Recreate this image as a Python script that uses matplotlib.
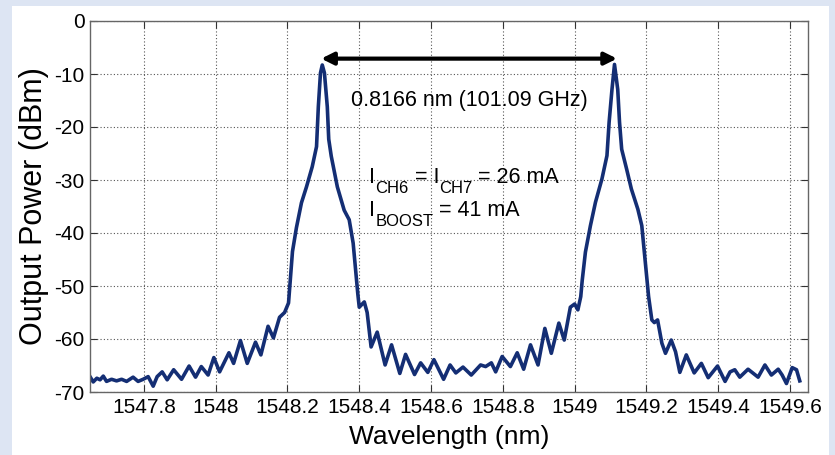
import matplotlib
matplotlib.use("Agg")
import matplotlib.pyplot as plt
from matplotlib.patches import Rectangle

plt.rcParams["font.family"] = ["Liberation Sans", "DejaVu Sans"]
plt.rcParams["axes.unicode_minus"] = False

# spectrum
wavelength = [
    1547.650, 1547.659, 1547.669, 1547.678, 1547.687, 1547.696, 1547.710, 1547.724,
    1547.738, 1547.752, 1547.770, 1547.784, 1547.798, 1547.812, 1547.826, 1547.837,
    1547.851, 1547.865, 1547.883, 1547.905, 1547.926, 1547.944, 1547.960, 1547.979,
    1547.995, 1548.011, 1548.037, 1548.050, 1548.069, 1548.088, 1548.111, 1548.126,
    1548.146, 1548.161, 1548.178, 1548.192, 1548.203, 1548.208, 1548.214, 1548.225,
    1548.239, 1548.253, 1548.269, 1548.281, 1548.286, 1548.292, 1548.297, 1548.303,
    1548.311, 1548.315, 1548.322, 1548.339, 1548.358, 1548.372, 1548.383, 1548.392,
    1548.396, 1548.400, 1548.414, 1548.422, 1548.433, 1548.450, 1548.472, 1548.490,
    1548.513, 1548.529, 1548.554, 1548.571, 1548.591, 1548.608, 1548.635, 1548.653,
    1548.669, 1548.689, 1548.712, 1548.738, 1548.752, 1548.768, 1548.780, 1548.798,
    1548.821, 1548.840, 1548.858, 1548.877, 1548.898, 1548.917, 1548.935, 1548.956,
    1548.971, 1548.988, 1549.000, 1549.009, 1549.017, 1549.021, 1549.030, 1549.044,
    1549.058, 1549.076, 1549.090, 1549.096, 1549.104, 1549.111, 1549.120, 1549.125,
    1549.131, 1549.145, 1549.158, 1549.176, 1549.187, 1549.194, 1549.201, 1549.206,
    1549.215, 1549.222, 1549.231, 1549.243, 1549.253, 1549.269, 1549.281, 1549.293,
    1549.311, 1549.333, 1549.353, 1549.372, 1549.398, 1549.419, 1549.433, 1549.446,
    1549.460, 1549.483, 1549.511, 1549.530, 1549.548, 1549.567, 1549.578, 1549.590,
    1549.606, 1549.618, 1549.627,
]
power = [
    -67.1, -68.1, -67.4, -67.7, -67.0, -68.0, -67.6, -67.9,
    -67.6, -68.0, -67.2, -68.0, -67.6, -67.1, -68.9, -67.1,
    -66.2, -67.7, -65.8, -67.6, -65.1, -67.2, -65.2, -66.8,
    -63.5, -66.2, -62.6, -64.6, -60.3, -64.6, -60.6, -63.0,
    -57.6, -59.8, -55.9, -55.0, -53.2, -48.9, -43.5, -39.0,
    -34.3, -31.3, -27.5, -23.7, -16.2, -9.8, -8.3, -9.8,
    -16.2, -22.3, -25.5, -31.3, -35.7, -37.5, -41.9, -48.5,
    -51.5, -54.0, -53.0, -55.0, -61.5, -58.7, -64.9, -61.1,
    -66.5, -62.9, -66.7, -64.5, -66.3, -63.9, -67.6, -64.9,
    -66.4, -65.3, -66.8, -64.9, -65.2, -64.5, -66.2, -63.3,
    -65.2, -62.6, -65.7, -61.1, -64.9, -58.0, -62.7, -57.0,
    -60.2, -54.0, -53.4, -54.5, -52.0, -49.0, -43.6, -38.6,
    -34.2, -29.8, -25.4, -19.1, -12.9, -8.2, -12.9, -19.1,
    -24.2, -28.0, -31.7, -35.5, -38.6, -43.6, -48.5, -52.0,
    -56.4, -56.9, -56.4, -60.8, -62.7, -60.2, -62.4, -66.3,
    -63.0, -66.4, -64.6, -67.3, -65.1, -68.0, -66.2, -65.8,
    -67.2, -65.7, -67.2, -64.9, -66.8, -65.7, -66.8, -68.4,
    -65.4, -65.8, -67.9,
]

xticks = [1547.8, 1548.0, 1548.2, 1548.4, 1548.6, 1548.8, 1549.0, 1549.2, 1549.4, 1549.6]
xtick_labels = ["1547.8", "1548", "1548.2", "1548.4", "1548.6", "1548.8",
                "1549", "1549.2", "1549.4", "1549.6"]
yticks = [0, -10, -20, -30, -40, -50, -60, -70]

peak_left = (1548.294, -7.1)
peak_right = (1549.118, -7.1)
spacing_text = "0.8166 nm (101.09 GHz)"
# (main text, subscript) pieces for the two current lines
line1 = [("I", "CH6"), (" = I", "CH7"), (" = 26 mA", "")]
line2 = [("I", "BOOST"), (" = 41 mA", "")]

fig = plt.figure(figsize=(8.35, 4.55), dpi=100)
fig.patch.set_facecolor("#dde5f3")
fig.patches.append(Rectangle((12 / 835, 0), 817 / 835, 449 / 455,
                             transform=fig.transFigure, facecolor="white",
                             edgecolor="none", zorder=-10))

ax = fig.add_axes([90 / 835, 63 / 455, 718 / 835, 371 / 455])
ax.plot(wavelength, power, color="#142e74", lw=2.6, solid_joinstyle="round")

ax.set_xlim(1547.65, 1549.65)
ax.set_ylim(-70, 0)
ax.set_xticks(xticks)
ax.set_xticklabels(xtick_labels)
ax.set_yticks(yticks)
ax.tick_params(direction="in", length=5, width=0.8, labelsize=15, pad=4,
               top=True, right=True, colors="#333333", labelcolor="black")
ax.grid(True, color="#555555", linestyle=(0, (1, 2)), lw=0.8)
for s in ax.spines.values():
    s.set_color("#666666")
    s.set_linewidth(1.0)

ax.set_xlabel("Wavelength (nm)", fontsize=19, labelpad=6)
ax.set_ylabel("Output Power (dBm)", fontsize=22, labelpad=4)

ax.annotate("", xy=peak_left, xytext=peak_right,
            arrowprops=dict(arrowstyle="<|-|>", color="black", lw=3,
                            mutation_scale=18, shrinkA=0, shrinkB=0))
ax.text((peak_left[0] + peak_right[0]) / 2, -15, spacing_text,
        ha="center", va="center", fontsize=15.5)


def sub_line(x0, y0, pieces, fs=15.5, fs_sub=12, drop=1.9):
    prev = None
    for main, sub in pieces:
        if prev is None:
            prev = ax.text(x0, y0, main, ha="left", va="baseline", fontsize=fs)
        else:
            prev = ax.annotate(main, xy=(1, y0), xycoords=(prev, "data"),
                               ha="left", va="baseline", fontsize=fs)
        if sub:
            prev = ax.annotate(sub, xy=(1, y0 - drop), xycoords=(prev, "data"),
                               ha="left", va="baseline", fontsize=fs_sub)


sub_line(1548.428, -30.6, line1)
sub_line(1548.428, -36.8, line2)

fig.savefig("out.png", dpi=100)
